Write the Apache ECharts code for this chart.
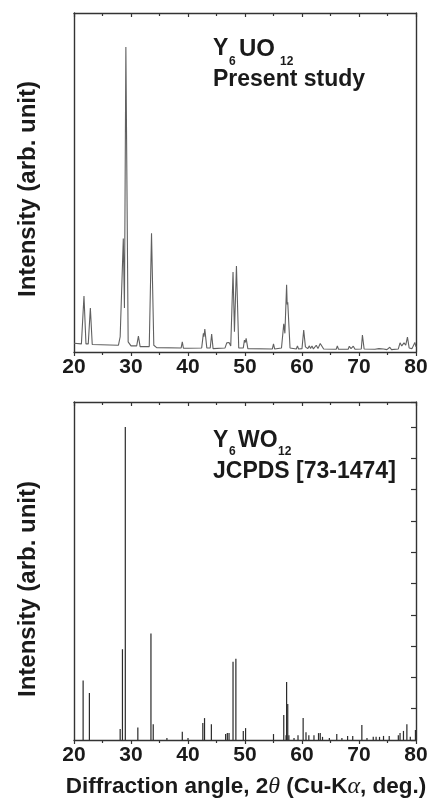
<!DOCTYPE html>
<html>
<head>
<meta charset="utf-8">
<script src="https://cdn.jsdelivr.net/npm/echarts@6/dist/echarts.min.js"></script>
<style>
html,body{margin:0;padding:0;background:#fff;}
#c{width:432px;height:806px;}
</style>
</head>
<body>
<div id="c"></div>
<script>
// Measured pattern (present study): 2-theta (deg) and intensity (arb.)
const topTheta = [20.0,21.3,21.75,22.1,22.5,22.87,23.2,27.8,28.1,28.3,28.65,28.85,29.1,29.5,30.0,31.0,31.3,31.6,33.2,33.6,34.0,34.5,38.8,39.0,39.2,40.0,40.1,40.3,42.4,42.7,42.8,42.95,43.3,43.9,44.15,44.4,46.5,46.8,47.0,47.2,47.5,47.9,48.15,48.5,48.9,49.7,49.9,50.05,50.2,50.5,54.8,55.0,55.2,56.4,56.8,57.0,57.3,57.4,57.5,57.9,59.0,59.2,59.4,60.0,60.3,60.6,60.8,61.0,61.3,61.5,61.75,62.0,62.5,62.8,63.2,63.45,63.8,66.0,66.2,66.4,68.1,68.3,68.6,69.0,69.3,70.4,70.6,70.9,72.8,73.0,73.5,73.8,74.3,74.6,74.9,75.4,75.7,76.9,77.2,77.5,77.9,78.2,78.5,78.8,79.3,79.8,80.0];
const topIntensity = [2.6,2.4,16.5,2.4,2.4,13.0,2.2,2.0,4.5,4.0,33.5,13.0,90.0,3.0,1.8,1.8,4.7,1.6,1.6,35.0,2.0,1.3,1.2,3.0,1.1,1.1,1.6,1.0,1.2,5.5,4.5,6.8,1.2,1.2,5.3,1.0,1.2,2.7,2.2,2.8,1.8,23.6,6.0,25.4,1.2,1.2,3.5,2.8,4.0,1.0,0.9,2.4,0.9,1.2,8.3,5.5,19.8,14.0,14.7,1.2,0.9,1.8,0.9,1.0,6.5,1.5,2.0,1.0,1.8,1.0,1.8,0.9,2.0,1.0,2.5,2.9,0.9,0.8,1.8,0.8,0.8,1.7,1.0,1.7,0.8,0.9,5.0,0.9,0.8,1.3,1.0,1.4,0.9,1.4,0.7,1.4,0.7,0.9,2.7,1.8,2.7,2.0,4.4,1.2,1.0,2.8,1.5];

// Reference pattern JCPDS [73-1474]: line positions and relative intensities
const refTheta = [21.6,22.7,28.1,28.5,29.0,31.2,33.5,33.9,36.3,39.0,40.0,42.6,42.9,44.1,46.6,46.9,47.2,47.9,48.4,49.7,50.1,55.0,56.8,57.2,57.3,57.5,57.7,58.6,59.3,60.2,60.7,61.2,62.1,62.9,63.2,63.6,64.8,66.1,67.0,68.0,68.9,70.5,71.4,72.5,73.0,73.6,74.3,75.3,76.9,77.2,77.8,78.4,79.0,79.9];
const refIntensity = [19,15,3.5,29,100,4,34,5,0.6,2.6,0.6,5.4,7,5,1.9,2.2,2.2,25,26,2.9,3.8,1.9,8,1.5,18.5,11.5,1.5,0.6,1.5,7,2.5,1.5,1.5,2.2,2.2,1,0.6,1.9,0.6,1.3,1.3,4.8,0.6,1,1,1,1.3,1.3,1.5,2.2,2.9,5,1,3.2];

const xMin = 20, xMax = 80, xStep = 10;
const topYMax = 100, refYMax = 108, refYStep = 10;

const topData = topTheta.map((t, i) => [t, topIntensity[i]]);
const refData = refTheta.map((t, i) => [t, refIntensity[i]]);

const FONT = 'Liberation Sans, Arial, sans-serif';
const INK = '#1a1a1a';
const FRAME = '#333';

function bottomX(gridIndex) {
  return {
    type: 'value', gridIndex, min: xMin, max: xMax, interval: xStep, position: 'bottom',
    axisLine: {show: true, onZero: false, lineStyle: {color: FRAME, width: 1.4}},
    axisTick: {show: true, inside: false, length: 4, lineStyle: {color: FRAME, width: 1.2}},
    minorTick: {show: true, splitNumber: 2, length: 3, lineStyle: {color: FRAME, width: 1.2}},
    axisLabel: {show: true, margin: 5, fontSize: 21, fontWeight: 'bold', fontFamily: FONT, color: INK},
    splitLine: {show: false}, minorSplitLine: {show: false}
  };
}
function topX(gridIndex) {
  return {
    type: 'value', gridIndex, min: xMin, max: xMax, interval: xStep, position: 'top',
    axisLine: {show: true, onZero: false, lineStyle: {color: FRAME, width: 1.4}},
    axisTick: {show: true, inside: true, length: 4, lineStyle: {color: FRAME, width: 1.2}},
    minorTick: {show: true, splitNumber: 2, length: 3, lineStyle: {color: FRAME, width: 1.2}},
    axisLabel: {show: false}, splitLine: {show: false}
  };
}
function plainY(gridIndex, max, position) {
  return {
    type: 'value', gridIndex, min: 0, max, position,
    axisLine: {show: true, onZero: false, lineStyle: {color: FRAME, width: 1.4}},
    axisTick: {show: false}, axisLabel: {show: false}, splitLine: {show: false}
  };
}

function txt(x, y, text, size) {
  return {type: 'text', x, y, style: {text, fontSize: size, fontWeight: 'bold', fontFamily: FONT, fill: INK, textAlign: 'left', textVerticalAlign: 'middle'}};
}

const option = {
  animation: false,
  backgroundColor: '#fff',
  grid: [
    {left: 74, right: 16, top: 13, height: 339, show: false},
    {left: 74, right: 16, top: 402, height: 338, show: false}
  ],
  xAxis: [bottomX(0), topX(0), bottomX(1), topX(1)],
  yAxis: [
    plainY(0, topYMax, 'left'),
    plainY(0, topYMax, 'right'),
    plainY(1, refYMax, 'left'),
    {
      type: 'value', gridIndex: 1, min: 0, max: refYMax, interval: refYStep, position: 'right',
      axisLine: {show: true, onZero: false, lineStyle: {color: FRAME, width: 1.4}},
      axisTick: {show: true, inside: true, length: 5, lineStyle: {color: FRAME, width: 1.2}},
      axisLabel: {show: false}, splitLine: {show: false}
    }
  ],
  series: [
    {
      type: 'line', xAxisIndex: 0, yAxisIndex: 0, data: topData,
      showSymbol: false, symbol: 'none',
      lineStyle: {color: '#606060', width: 1.1}
    },
    {
      type: 'custom', xAxisIndex: 2, yAxisIndex: 2, data: refData,
      renderItem: function (params, api) {
        const x = api.value(0), y = api.value(1);
        const p0 = api.coord([x, 0]);
        const p1 = api.coord([x, y]);
        return {
          type: 'line',
          shape: {x1: p0[0], y1: p0[1], x2: p1[0], y2: p1[1]},
          style: {stroke: '#2a2a2a', lineWidth: 1.2}
        };
      }
    }
  ],
  graphic: [
    // top panel label
    txt(213, 49, 'Y', 23),
    txt(229, 61.5, '6', 12),
    txt(239, 49, 'UO', 24),
    txt(280, 61.5, '12', 12),
    txt(213, 80, 'Present study', 23),
    // bottom panel label
    txt(213, 441, 'Y', 23),
    txt(229, 452, '6', 12),
    txt(238, 441, 'WO', 23),
    txt(278, 452, '12', 12),
    txt(213, 472, 'JCPDS [73-1474]', 23),
    // y axis titles
    {type: 'text', x: 28, y: 189, rotation: Math.PI / 2, style: {text: 'Intensity (arb. unit)', fontSize: 24, fontWeight: 'bold', fontFamily: FONT, fill: INK, textAlign: 'center', textVerticalAlign: 'middle'}},
    {type: 'text', x: 28, y: 589, rotation: Math.PI / 2, style: {text: 'Intensity (arb. unit)', fontSize: 24, fontWeight: 'bold', fontFamily: FONT, fill: INK, textAlign: 'center', textVerticalAlign: 'middle'}},
    // x axis title
    {type: 'text', x: 246, y: 787, style: {
      text: '{b|Diffraction angle, 2}{i|θ}{b| (Cu-K}{i|α}{b|, deg.)}',
      textAlign: 'center', textVerticalAlign: 'middle',
      rich: {
        b: {fontSize: 22.5, fontWeight: 'bold', fontFamily: FONT, fill: INK, color: INK},
        i: {fontSize: 24, fontStyle: 'italic', fontWeight: 'normal', fontFamily: 'Liberation Serif, serif', fill: INK, color: INK}
      }
    }}
  ]
};

const chart = echarts.init(document.getElementById('c'), null, {renderer: 'canvas'});
chart.setOption(option);
</script>
</body>
</html>
